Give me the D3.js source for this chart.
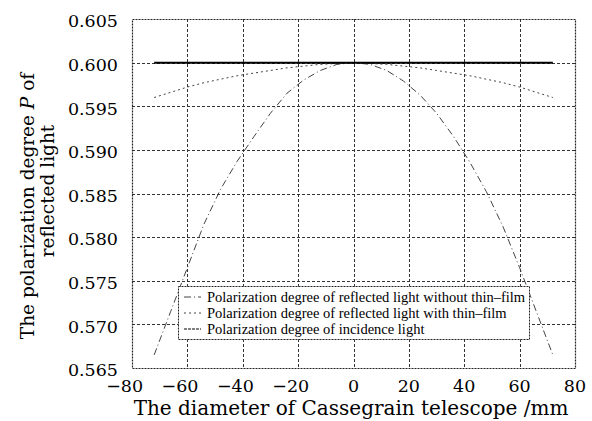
<!DOCTYPE html>
<html>
<head>
<meta charset="utf-8">
<script src="https://cdn.jsdelivr.net/npm/d3@7"></script>
<style>
  body { margin: 0; background: #fff; }
  svg { font-family: "DejaVu Serif", serif; }
</style>
</head>
<body>
<div id="vis"></div>
<script>
// values
const diam = [-72, -66, -60, -54, -48, -42, -36, -30, -24, -18, -12, -6, 0,
              6, 12, 18, 24, 30, 36, 42, 48, 54, 60, 66, 72];
const noFilm = [0.5665, 0.5715, 0.5765, 0.5815, 0.5855, 0.5887, 0.5915, 0.5942, 0.5965, 0.5980, 0.5991, 0.5998, 0.6000,
                0.5998, 0.5991, 0.5979, 0.5963, 0.5942, 0.5916, 0.5886, 0.5852, 0.5812, 0.5765, 0.5715, 0.5665];
const withFilm = [0.5960, 0.5966, 0.5972, 0.5977, 0.5981, 0.5985, 0.5988, 0.5991, 0.5994, 0.5996, 0.5998, 0.5999, 0.6000,
                  0.5999, 0.5998, 0.5996, 0.5994, 0.5991, 0.5988, 0.5985, 0.5981, 0.5977, 0.5972, 0.5966, 0.5960];
const incidence = [0.600, 0.600, 0.600, 0.600, 0.600, 0.600, 0.600, 0.600, 0.600, 0.600, 0.600, 0.600, 0.600,
                   0.600, 0.600, 0.600, 0.600, 0.600, 0.600, 0.600, 0.600, 0.600, 0.600, 0.600, 0.600];
const xTicks = [-80, -60, -40, -20, 0, 20, 40, 60, 80];
const yTicks = [0.565, 0.570, 0.575, 0.580, 0.585, 0.590, 0.595, 0.600, 0.605];
const legendLabels = [
  "Polarization degree of reflected light without thin\u2013film",
  "Polarization degree of reflected light with thin\u2013film",
  "Polarization degree of incidence light"
];

const width = 592, height = 421;
const margin = {left: 132, right: 17, top: 19, bottom: 53};

const svg = d3.select("#vis").append("svg")
    .attr("width", width)
    .attr("height", height);

const x = d3.scaleLinear().domain([-80, 80]).range([margin.left, width - margin.right]);
const y = d3.scaleLinear().domain([0.565, 0.605]).range([height - margin.bottom, margin.top]);

// grid
const grid = svg.append("g")
    .attr("stroke", "#333")
    .attr("stroke-width", 1)
    .attr("stroke-dasharray", "3,2");
grid.selectAll(".gx")
  .data(xTicks.slice(1, -1))
  .join("line")
    .attr("x1", d => Math.round(x(d)) + 0.5).attr("x2", d => Math.round(x(d)) + 0.5)
    .attr("y1", y(0.605)).attr("y2", y(0.565));
grid.selectAll(".gy")
  .data(yTicks.slice(1, -1))
  .join("line")
    .attr("y1", d => Math.round(y(d)) + 0.5).attr("y2", d => Math.round(y(d)) + 0.5)
    .attr("x1", x(-80)).attr("x2", x(80));

// frame
svg.append("rect")
    .attr("x", x(-80) + 0.5).attr("y", y(0.605) + 0.5)
    .attr("width", x(80) - x(-80)).attr("height", y(0.565) - y(0.605))
    .attr("fill", "none")
    .attr("stroke", "#222")
    .attr("stroke-width", 1.2)
    .attr("stroke-dasharray", "2,1");

// tick labels
svg.append("g").selectAll("text")
  .data(yTicks)
  .join("text")
    .attr("x", 118)
    .attr("y", d => y(d) + 2)
    .attr("dy", "0.36em")
    .attr("text-anchor", "end")
    .attr("font-size", 17.5)
    .text(d => d3.format(".3f")(d));

// x labels: digits centred on the tick, minus sign hanging to the left
const xl = svg.append("g").selectAll("text")
  .data(xTicks)
  .join("text")
    .attr("y", 386)
    .attr("dy", "0.36em")
    .attr("font-size", 17.5);
xl.append("tspan").attr("class", "minus").text(d => d < 0 ? "\u2212" : "");
xl.append("tspan").attr("class", "num").text(d => Math.abs(d));
xl.each(function (d) {
  const t = d3.select(this);
  const full = this.getComputedTextLength();
  const num = t.select(".num").node().getComputedTextLength();
  t.attr("x", x(d) - (full - num) - num / 2);
});

// axis titles
svg.append("text")
    .attr("x", 351)
    .attr("y", 415)
    .attr("text-anchor", "middle")
    .attr("font-size", 20)
    .text("The diameter of Cassegrain telescope /mm");

const yt = svg.append("text")
    .attr("transform", "translate(34,206) rotate(-90)")
    .attr("text-anchor", "middle")
    .attr("font-size", 18.5);
yt.append("tspan").text("The polarization degree ");
yt.append("tspan").attr("font-style", "italic").text("P");
yt.append("tspan").text(" of");
svg.append("text")
    .attr("transform", "translate(54,191) rotate(-90)")
    .attr("text-anchor", "middle")
    .attr("font-size", 18.5)
    .text("reflected light");

// series
const series = [
  {vals: noFilm, dash: "7,3,1,3", w: 1, color: "#444"},
  {vals: withFilm, dash: "2,3", w: 1, color: "#444"},
  {vals: incidence, dash: null, w: 2, color: "#000"}
];
const line = d3.line().x(d => x(d[0])).y(d => y(d[1]));
svg.append("g").selectAll("path")
  .data(series)
  .join("path")
    .attr("d", s => line(diam.map((d, i) => [d, s.vals[i]])))
    .attr("fill", "none")
    .attr("stroke", s => s.color)
    .attr("stroke-width", s => s.w)
    .attr("stroke-dasharray", s => s.dash);

// legend
const lg = svg.append("g");
lg.append("rect")
    .attr("x", 178.5).attr("y", 286.5)
    .attr("width", 351).attr("height", 53)
    .attr("fill", "#fff")
    .attr("stroke", "#222")
    .attr("stroke-dasharray", "2,1");
const rows = lg.selectAll("g")
  .data(series)
  .join("g")
    .attr("transform", (d, i) => `translate(0,${297 + i * 16})`);
rows.append("line")
    .attr("x1", 184).attr("x2", 201)
    .attr("stroke", s => s.color)
    .attr("stroke-width", 1)
    .attr("stroke-dasharray", s => s.dash || "3,1");
rows.append("text")
    .attr("x", 207)
    .attr("dy", "0.35em")
    .attr("font-family", "Liberation Serif, serif")
    .attr("font-size", 14.5)
    .text((d, i) => legendLabels[i]);
</script>
</body>
</html>
